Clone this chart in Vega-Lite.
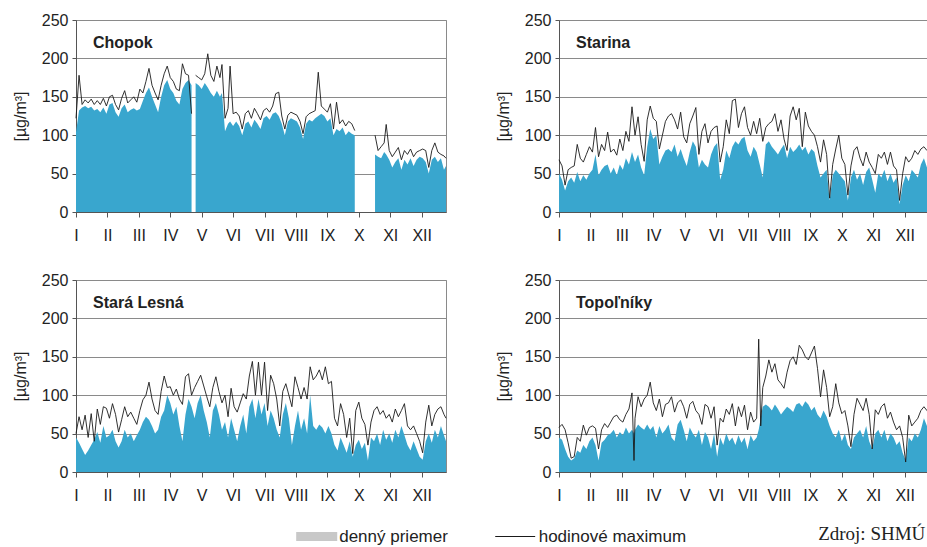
{
"$schema": "https://vega.github.io/schema/vega-lite/v6.json",
"padding": {"left": 11, "top": 11, "right": 0, "bottom": 0},
"background": "white",
"datasets": {
"chopok": [
{"d":0,"dm":104,"mx":122},{"d":3,"dm":132,"mx":178},{"d":6,"dm":136,"mx":140},{"d":9,"dm":138,"mx":146},{"d":12,"dm":135,"mx":142},{"d":15,"dm":137,"mx":147},{"d":18,"dm":132,"mx":140},{"d":21,"dm":134,"mx":145},{"d":24,"dm":130,"mx":140},{"d":27,"dm":136,"mx":148},{"d":30,"dm":128,"mx":138},
{"d":33,"dm":140,"mx":150},{"d":36,"dm":142,"mx":152},{"d":39,"dm":130,"mx":140},{"d":42,"dm":124,"mx":133},{"d":45,"dm":135,"mx":148},{"d":48,"dm":140,"mx":158},{"d":51,"dm":130,"mx":142},{"d":54,"dm":133,"mx":146},{"d":57,"dm":135,"mx":150},{"d":60,"dm":132,"mx":143},
{"d":63,"dm":134,"mx":160},{"d":66,"dm":145,"mx":155},{"d":69,"dm":155,"mx":170},{"d":72,"dm":162,"mx":187},{"d":75,"dm":150,"mx":165},{"d":78,"dm":140,"mx":155},{"d":81,"dm":130,"mx":146},{"d":84,"dm":150,"mx":165},{"d":87,"dm":165,"mx":180},{"d":90,"dm":172,"mx":190},
{"d":93,"dm":160,"mx":175},{"d":96,"dm":155,"mx":170},{"d":99,"dm":145,"mx":160},{"d":102,"dm":140,"mx":158},{"d":105,"dm":160,"mx":193},{"d":108,"dm":168,"mx":180},{"d":111,"dm":172,"mx":178},{"d":114,"dm":165,"mx":128},{"d":116,"dm":null,"mx":null},
{"d":118,"dm":168,"mx":178},{"d":121,"dm":165,"mx":175},{"d":124,"dm":160,"mx":172},{"d":127,"dm":168,"mx":180},{"d":130,"dm":162,"mx":206},{"d":133,"dm":155,"mx":178},{"d":136,"dm":150,"mx":170},{"d":139,"dm":158,"mx":190},{"d":142,"dm":150,"mx":175},{"d":144,"dm":155,"mx":192},
{"d":147,"dm":105,"mx":122},{"d":150,"dm":115,"mx":135},{"d":152,"dm":118,"mx":190},{"d":155,"dm":112,"mx":128},{"d":158,"dm":118,"mx":130},{"d":161,"dm":112,"mx":125},{"d":164,"dm":100,"mx":108},{"d":167,"dm":115,"mx":128},{"d":170,"dm":118,"mx":132},{"d":173,"dm":110,"mx":122},
{"d":176,"dm":120,"mx":135},{"d":179,"dm":115,"mx":128},{"d":182,"dm":108,"mx":120},{"d":185,"dm":122,"mx":132},{"d":188,"dm":125,"mx":135},{"d":191,"dm":120,"mx":130},{"d":194,"dm":128,"mx":138},{"d":197,"dm":130,"mx":154},{"d":200,"dm":125,"mx":156},{"d":203,"dm":115,"mx":125},
{"d":206,"dm":100,"mx":108},{"d":209,"dm":118,"mx":126},{"d":212,"dm":122,"mx":130},{"d":215,"dm":120,"mx":128},{"d":218,"dm":118,"mx":126},{"d":221,"dm":110,"mx":118},{"d":224,"dm":95,"mx":102},{"d":227,"dm":115,"mx":124},{"d":230,"dm":120,"mx":128},{"d":233,"dm":118,"mx":130},
{"d":236,"dm":122,"mx":132},{"d":239,"dm":125,"mx":182},{"d":242,"dm":128,"mx":138},{"d":245,"dm":125,"mx":134},{"d":248,"dm":118,"mx":130},{"d":251,"dm":122,"mx":141},{"d":254,"dm":100,"mx":108},{"d":257,"dm":108,"mx":143},{"d":260,"dm":105,"mx":115},{"d":263,"dm":110,"mx":120},
{"d":266,"dm":100,"mx":112},{"d":269,"dm":105,"mx":118},{"d":272,"dm":102,"mx":115},{"d":275,"dm":100,"mx":106},{"d":285,"dm":null,"mx":null},
{"d":295,"dm":75,"mx":100},{"d":298,"dm":72,"mx":80},{"d":301,"dm":70,"mx":85},{"d":304,"dm":78,"mx":90},{"d":306,"dm":75,"mx":114},{"d":309,"dm":68,"mx":80},{"d":312,"dm":58,"mx":72},{"d":315,"dm":65,"mx":78},{"d":318,"dm":70,"mx":84},{"d":321,"dm":55,"mx":68},
{"d":324,"dm":68,"mx":80},{"d":327,"dm":62,"mx":75},{"d":330,"dm":70,"mx":82},{"d":333,"dm":60,"mx":72},{"d":336,"dm":68,"mx":78},{"d":339,"dm":72,"mx":80},{"d":342,"dm":70,"mx":82},{"d":345,"dm":65,"mx":80},{"d":348,"dm":50,"mx":58},{"d":351,"dm":68,"mx":80},
{"d":354,"dm":72,"mx":90},{"d":357,"dm":65,"mx":78},{"d":360,"dm":70,"mx":75},{"d":363,"dm":55,"mx":73},{"d":365,"dm":60,"mx":70}
],
"starina": [
{"d":0,"dm":50,"mx":68},{"d":3,"dm":42,"mx":60},{"d":6,"dm":28,"mx":35},{"d":9,"dm":40,"mx":55},{"d":12,"dm":45,"mx":58},{"d":15,"dm":38,"mx":60},{"d":18,"dm":52,"mx":88},{"d":21,"dm":40,"mx":70},{"d":24,"dm":48,"mx":65},{"d":27,"dm":42,"mx":75},{"d":30,"dm":50,"mx":85},
{"d":33,"dm":55,"mx":78},{"d":36,"dm":75,"mx":110},{"d":39,"dm":48,"mx":72},{"d":42,"dm":55,"mx":88},{"d":45,"dm":60,"mx":80},{"d":48,"dm":62,"mx":104},{"d":51,"dm":50,"mx":78},{"d":54,"dm":58,"mx":82},{"d":57,"dm":48,"mx":74},{"d":60,"dm":62,"mx":95},
{"d":63,"dm":55,"mx":80},{"d":66,"dm":70,"mx":105},{"d":69,"dm":62,"mx":92},{"d":72,"dm":78,"mx":137},{"d":75,"dm":65,"mx":100},{"d":78,"dm":75,"mx":124},{"d":81,"dm":58,"mx":88},{"d":84,"dm":48,"mx":66},{"d":87,"dm":85,"mx":120},{"d":90,"dm":108,"mx":138},
{"d":93,"dm":95,"mx":122},{"d":96,"dm":100,"mx":118},{"d":99,"dm":62,"mx":82},{"d":102,"dm":72,"mx":100},{"d":105,"dm":80,"mx":118},{"d":108,"dm":82,"mx":125},{"d":111,"dm":78,"mx":128},{"d":114,"dm":88,"mx":120},{"d":117,"dm":72,"mx":108},{"d":120,"dm":82,"mx":130},
{"d":123,"dm":70,"mx":98},{"d":126,"dm":60,"mx":90},{"d":129,"dm":78,"mx":115},{"d":132,"dm":92,"mx":125},{"d":135,"dm":85,"mx":136},{"d":138,"dm":58,"mx":75},{"d":141,"dm":68,"mx":105},{"d":144,"dm":62,"mx":115},{"d":147,"dm":58,"mx":90},{"d":150,"dm":75,"mx":105},
{"d":153,"dm":85,"mx":110},{"d":156,"dm":90,"mx":112},{"d":159,"dm":42,"mx":65},{"d":162,"dm":55,"mx":85},{"d":165,"dm":80,"mx":120},{"d":168,"dm":70,"mx":102},{"d":171,"dm":85,"mx":145},{"d":174,"dm":92,"mx":147},{"d":177,"dm":88,"mx":110},{"d":180,"dm":95,"mx":128},
{"d":183,"dm":98,"mx":137},{"d":186,"dm":80,"mx":110},{"d":189,"dm":72,"mx":100},{"d":192,"dm":85,"mx":118},{"d":195,"dm":78,"mx":102},{"d":198,"dm":62,"mx":122},{"d":201,"dm":45,"mx":92},{"d":204,"dm":88,"mx":110},{"d":207,"dm":92,"mx":115},{"d":210,"dm":85,"mx":118},
{"d":213,"dm":80,"mx":128},{"d":216,"dm":75,"mx":105},{"d":219,"dm":82,"mx":120},{"d":222,"dm":88,"mx":95},{"d":225,"dm":70,"mx":80},{"d":228,"dm":85,"mx":125},{"d":231,"dm":78,"mx":137},{"d":234,"dm":82,"mx":120},{"d":237,"dm":88,"mx":135},{"d":240,"dm":80,"mx":85},
{"d":243,"dm":85,"mx":130},{"d":246,"dm":75,"mx":112},{"d":249,"dm":82,"mx":105},{"d":252,"dm":78,"mx":100},{"d":255,"dm":60,"mx":85},{"d":258,"dm":45,"mx":65},{"d":261,"dm":50,"mx":94},{"d":264,"dm":55,"mx":75},{"d":267,"dm":15,"mx":18},{"d":270,"dm":48,"mx":62},
{"d":273,"dm":55,"mx":82},{"d":276,"dm":50,"mx":100},{"d":279,"dm":45,"mx":70},{"d":282,"dm":40,"mx":62},{"d":285,"dm":15,"mx":22},{"d":288,"dm":45,"mx":60},{"d":291,"dm":55,"mx":80},{"d":294,"dm":42,"mx":85},{"d":297,"dm":50,"mx":70},{"d":300,"dm":35,"mx":60},
{"d":303,"dm":52,"mx":78},{"d":306,"dm":58,"mx":65},{"d":309,"dm":42,"mx":58},{"d":312,"dm":25,"mx":50},{"d":315,"dm":50,"mx":75},{"d":318,"dm":45,"mx":70},{"d":321,"dm":55,"mx":78},{"d":324,"dm":40,"mx":62},{"d":327,"dm":50,"mx":78},{"d":330,"dm":38,"mx":60},
{"d":333,"dm":45,"mx":55},{"d":336,"dm":10,"mx":15},{"d":339,"dm":35,"mx":50},{"d":342,"dm":48,"mx":72},{"d":345,"dm":40,"mx":65},{"d":348,"dm":55,"mx":70},{"d":351,"dm":50,"mx":80},{"d":354,"dm":45,"mx":75},{"d":357,"dm":62,"mx":82},{"d":360,"dm":70,"mx":85},{"d":363,"dm":58,"mx":80},{"d":365,"dm":60,"mx":78}
],
"lesna": [
{"d":0,"dm":45,"mx":50},{"d":3,"dm":38,"mx":72},{"d":6,"dm":30,"mx":55},{"d":9,"dm":22,"mx":74},{"d":12,"dm":28,"mx":45},{"d":15,"dm":35,"mx":76},{"d":18,"dm":42,"mx":40},{"d":21,"dm":52,"mx":82},{"d":24,"dm":38,"mx":62},{"d":27,"dm":60,"mx":85},{"d":30,"dm":45,"mx":83},
{"d":33,"dm":48,"mx":70},{"d":36,"dm":55,"mx":89},{"d":39,"dm":40,"mx":75},{"d":42,"dm":32,"mx":52},{"d":45,"dm":40,"mx":68},{"d":48,"dm":55,"mx":85},{"d":51,"dm":45,"mx":72},{"d":54,"dm":50,"mx":78},{"d":57,"dm":40,"mx":70},{"d":60,"dm":48,"mx":62},
{"d":63,"dm":55,"mx":80},{"d":66,"dm":65,"mx":94},{"d":69,"dm":72,"mx":100},{"d":72,"dm":68,"mx":117},{"d":75,"dm":60,"mx":95},{"d":78,"dm":50,"mx":80},{"d":81,"dm":55,"mx":75},{"d":84,"dm":72,"mx":105},{"d":87,"dm":80,"mx":125},{"d":90,"dm":100,"mx":110},
{"d":93,"dm":90,"mx":111},{"d":96,"dm":75,"mx":100},{"d":99,"dm":85,"mx":108},{"d":102,"dm":60,"mx":95},{"d":105,"dm":40,"mx":88},{"d":108,"dm":75,"mx":124},{"d":111,"dm":95,"mx":128},{"d":114,"dm":85,"mx":100},{"d":117,"dm":70,"mx":110},{"d":120,"dm":90,"mx":118},
{"d":123,"dm":100,"mx":126},{"d":126,"dm":80,"mx":112},{"d":129,"dm":65,"mx":98},{"d":132,"dm":45,"mx":85},{"d":135,"dm":80,"mx":110},{"d":138,"dm":90,"mx":124},{"d":141,"dm":75,"mx":105},{"d":144,"dm":55,"mx":90},{"d":147,"dm":65,"mx":100},{"d":150,"dm":45,"mx":72},
{"d":153,"dm":70,"mx":109},{"d":156,"dm":55,"mx":85},{"d":159,"dm":40,"mx":78},{"d":162,"dm":60,"mx":90},{"d":165,"dm":75,"mx":102},{"d":168,"dm":50,"mx":95},{"d":171,"dm":85,"mx":125},{"d":174,"dm":95,"mx":144},{"d":177,"dm":70,"mx":100},{"d":180,"dm":95,"mx":143},
{"d":183,"dm":75,"mx":100},{"d":186,"dm":90,"mx":143},{"d":189,"dm":60,"mx":80},{"d":192,"dm":80,"mx":126},{"d":195,"dm":70,"mx":115},{"d":198,"dm":55,"mx":95},{"d":201,"dm":45,"mx":60},{"d":204,"dm":75,"mx":105},{"d":207,"dm":90,"mx":115},{"d":210,"dm":70,"mx":100},
{"d":213,"dm":35,"mx":85},{"d":216,"dm":60,"mx":124},{"d":219,"dm":80,"mx":110},{"d":222,"dm":55,"mx":95},{"d":225,"dm":70,"mx":110},{"d":228,"dm":50,"mx":95},{"d":231,"dm":100,"mx":137},{"d":234,"dm":60,"mx":120},{"d":237,"dm":55,"mx":125},{"d":240,"dm":62,"mx":133},
{"d":243,"dm":58,"mx":120},{"d":246,"dm":50,"mx":137},{"d":249,"dm":60,"mx":115},{"d":252,"dm":50,"mx":118},{"d":255,"dm":35,"mx":70},{"d":258,"dm":28,"mx":60},{"d":261,"dm":45,"mx":89},{"d":264,"dm":35,"mx":75},{"d":267,"dm":25,"mx":45},{"d":270,"dm":40,"mx":70},
{"d":273,"dm":20,"mx":24},{"d":276,"dm":35,"mx":80},{"d":279,"dm":42,"mx":91},{"d":282,"dm":30,"mx":70},{"d":285,"dm":38,"mx":62},{"d":288,"dm":15,"mx":35},{"d":291,"dm":45,"mx":65},{"d":294,"dm":40,"mx":80},{"d":297,"dm":50,"mx":85},{"d":300,"dm":35,"mx":75},
{"d":303,"dm":55,"mx":80},{"d":306,"dm":42,"mx":70},{"d":309,"dm":50,"mx":75},{"d":312,"dm":38,"mx":65},{"d":315,"dm":55,"mx":82},{"d":318,"dm":45,"mx":72},{"d":321,"dm":60,"mx":80},{"d":324,"dm":48,"mx":89},{"d":327,"dm":35,"mx":60},{"d":330,"dm":28,"mx":55},
{"d":333,"dm":40,"mx":60},{"d":336,"dm":30,"mx":50},{"d":339,"dm":20,"mx":40},{"d":342,"dm":16,"mx":25},{"d":345,"dm":40,"mx":65},{"d":348,"dm":50,"mx":87},{"d":351,"dm":38,"mx":60},{"d":354,"dm":55,"mx":75},{"d":357,"dm":45,"mx":82},{"d":360,"dm":60,"mx":85},{"d":363,"dm":48,"mx":75},{"d":365,"dm":40,"mx":70}
],
"topolniky": [
{"d":0,"dm":45,"mx":58},{"d":3,"dm":42,"mx":62},{"d":6,"dm":30,"mx":55},{"d":9,"dm":20,"mx":38},{"d":12,"dm":15,"mx":18},{"d":15,"dm":18,"mx":20},{"d":18,"dm":28,"mx":45},{"d":21,"dm":25,"mx":40},{"d":24,"dm":35,"mx":61},{"d":27,"dm":30,"mx":48},{"d":30,"dm":40,"mx":58},
{"d":33,"dm":45,"mx":60},{"d":36,"dm":35,"mx":57},{"d":39,"dm":15,"mx":30},{"d":42,"dm":38,"mx":55},{"d":45,"dm":42,"mx":63},{"d":48,"dm":48,"mx":58},{"d":51,"dm":50,"mx":65},{"d":54,"dm":55,"mx":72},{"d":57,"dm":45,"mx":74},{"d":60,"dm":52,"mx":68},
{"d":63,"dm":48,"mx":65},{"d":66,"dm":58,"mx":75},{"d":69,"dm":50,"mx":82},{"d":72,"dm":55,"mx":103},{"d":74,"dm":50,"mx":15},{"d":75,"dm":55,"mx":70},{"d":78,"dm":62,"mx":98},{"d":81,"dm":58,"mx":85},{"d":84,"dm":55,"mx":95},{"d":87,"dm":62,"mx":100},{"d":90,"dm":55,"mx":117},
{"d":93,"dm":60,"mx":90},{"d":96,"dm":45,"mx":80},{"d":99,"dm":60,"mx":95},{"d":102,"dm":50,"mx":72},{"d":105,"dm":55,"mx":88},{"d":108,"dm":62,"mx":90},{"d":111,"dm":45,"mx":98},{"d":114,"dm":40,"mx":78},{"d":117,"dm":62,"mx":90},{"d":120,"dm":68,"mx":94},
{"d":123,"dm":55,"mx":85},{"d":126,"dm":40,"mx":70},{"d":129,"dm":58,"mx":88},{"d":132,"dm":50,"mx":92},{"d":135,"dm":45,"mx":80},{"d":138,"dm":55,"mx":75},{"d":141,"dm":35,"mx":62},{"d":144,"dm":52,"mx":88},{"d":147,"dm":45,"mx":85},{"d":150,"dm":30,"mx":70},
{"d":153,"dm":50,"mx":85},{"d":156,"dm":20,"mx":35},{"d":159,"dm":45,"mx":70},{"d":162,"dm":35,"mx":65},{"d":165,"dm":50,"mx":82},{"d":168,"dm":40,"mx":75},{"d":171,"dm":45,"mx":89},{"d":174,"dm":35,"mx":60},{"d":177,"dm":48,"mx":85},{"d":180,"dm":38,"mx":72},
{"d":183,"dm":45,"mx":87},{"d":186,"dm":30,"mx":55},{"d":189,"dm":48,"mx":78},{"d":192,"dm":40,"mx":65},{"d":195,"dm":45,"mx":70},{"d":197,"dm":55,"mx":173},{"d":199,"dm":70,"mx":60},{"d":201,"dm":85,"mx":110},{"d":204,"dm":88,"mx":125},{"d":207,"dm":85,"mx":146},
{"d":210,"dm":80,"mx":130},{"d":213,"dm":88,"mx":141},{"d":216,"dm":82,"mx":120},{"d":219,"dm":75,"mx":115},{"d":222,"dm":80,"mx":109},{"d":225,"dm":85,"mx":130},{"d":228,"dm":82,"mx":145},{"d":231,"dm":78,"mx":150},{"d":234,"dm":88,"mx":140},{"d":237,"dm":90,"mx":165},
{"d":240,"dm":85,"mx":159},{"d":243,"dm":92,"mx":150},{"d":246,"dm":88,"mx":146},{"d":249,"dm":80,"mx":155},{"d":252,"dm":85,"mx":164},{"d":255,"dm":75,"mx":135},{"d":258,"dm":70,"mx":98},{"d":261,"dm":80,"mx":133},{"d":264,"dm":72,"mx":110},{"d":267,"dm":60,"mx":72},
{"d":270,"dm":50,"mx":85},{"d":273,"dm":45,"mx":115},{"d":276,"dm":55,"mx":90},{"d":279,"dm":40,"mx":76},{"d":282,"dm":50,"mx":80},{"d":285,"dm":35,"mx":60},{"d":288,"dm":30,"mx":33},{"d":291,"dm":45,"mx":75},{"d":294,"dm":50,"mx":96},{"d":297,"dm":55,"mx":88},
{"d":300,"dm":45,"mx":80},{"d":303,"dm":60,"mx":96},{"d":306,"dm":40,"mx":75},{"d":309,"dm":30,"mx":30},{"d":312,"dm":50,"mx":81},{"d":315,"dm":55,"mx":75},{"d":318,"dm":45,"mx":85},{"d":321,"dm":55,"mx":89},{"d":324,"dm":40,"mx":70},{"d":327,"dm":50,"mx":78},
{"d":330,"dm":45,"mx":65},{"d":333,"dm":35,"mx":55},{"d":336,"dm":40,"mx":60},{"d":339,"dm":25,"mx":45},{"d":342,"dm":15,"mx":13},{"d":345,"dm":45,"mx":74},{"d":348,"dm":40,"mx":60},{"d":351,"dm":50,"mx":65},{"d":354,"dm":45,"mx":70},{"d":357,"dm":55,"mx":80},{"d":360,"dm":70,"mx":85},{"d":363,"dm":60,"mx":80},{"d":365,"dm":55,"mx":75}
]
},
"columns": 2,
"spacing": {"row": 27, "column": 45},
"title": {"text": "Zdroj: SHMÚ", "orient": "bottom", "anchor": "end", "font": "Liberation Serif", "fontSize": 19, "fontWeight": "normal", "color": "#222", "offset": -5, "baseline": "alphabetic", "dx": -6},
"concat": [
{"width": 370, "height": 192, "data": {"name": "chopok"},
 "title": {"text": "Chopok", "anchor": "start", "frame": "group", "dx": 17, "dy": 52, "offset": 0, "baseline": "alphabetic", "fontSize": 16, "fontWeight": "bold", "font": "Liberation Sans", "color": "#222"},
 "encoding": {"x": {"field": "d", "type": "quantitative", "scale": {"domain": [0, 365], "nice": false, "zero": false}, "axis": {"values": [0,31,62,93,124,155,186,217,248,279,310,341], "tickCount": 20, "labelExpr": "['I','II','III','IV','V','VI','VII','VIII','IX','X','XI','XII'][round(datum.value/31)]", "title": null, "grid": false, "tickSize": 5, "labelPadding": 10, "labelFlush": false, "labelOverlap": false}}},
 "layer": [
  {"mark": {"type": "area", "color": "#39A6CE", "invalid": "break-paths-show-domains"},
   "encoding": {"y": {"field": "dm", "type": "quantitative", "stack": null, "scale": {"domain": [0, 250], "nice": false}, "axis": {"values": [0,50,100,150,200,250], "tickCount": 20, "title": "[µg/m³]", "grid": true, "tickSize": 4, "labelPadding": 4, "titlePadding": 13, "labelOverlap": false}}}},
  {"mark": {"type": "line", "strokeWidth": 0.9, "invalid": "break-paths-show-domains"},
   "encoding": {"y": {"field": "mx", "type": "quantitative", "scale": {"domain": [0, 250], "nice": false}, "axis": {"values": [0,50,100,150,200,250], "tickCount": 20, "title": "[µg/m³]", "grid": true, "tickSize": 4, "labelPadding": 4, "titlePadding": 13, "labelOverlap": false}},
    "stroke": {"datum": "hodinové maximum", "scale": {"domain": ["hodinové maximum"], "range": ["#1a1a1a"]}, "legend": {"orient": "none", "legendX": 430.7, "legendY": 508, "title": null, "symbolType": "M-3.33,0H3.33", "symbolSize": 144, "symbolStrokeWidth": 1, "labelOffset": 15}}}},
  {"transform": [{"filter": "false"}],
   "mark": {"type": "square"},
   "encoding": {"fill": {"datum": "denný priemer", "scale": {"domain": ["denný priemer"], "range": ["#c8c8c8"]}, "legend": {"orient": "none", "legendX": 232.2, "legendY": 508, "title": null, "symbolType": "M-3.42,-0.75H3.42V0.75H-3.42Z", "symbolSize": 144, "symbolStrokeWidth": 0, "symbolOpacity": 1, "labelOffset": 14}}}}
 ]},
{"width": 370, "height": 192, "data": {"name": "starina"},
 "title": {"text": "Starina", "anchor": "start", "frame": "group", "dx": 17, "dy": 52, "offset": 0, "baseline": "alphabetic", "fontSize": 16, "fontWeight": "bold", "font": "Liberation Sans", "color": "#222"},
 "encoding": {"x": {"field": "d", "type": "quantitative", "scale": {"domain": [0, 365], "nice": false, "zero": false}, "axis": {"values": [0,31,62,93,124,155,186,217,248,279,310,341], "tickCount": 20, "labelExpr": "['I','II','III','IV','V','VI','VII','VIII','IX','X','XI','XII'][round(datum.value/31)]", "title": null, "grid": false, "tickSize": 5, "labelPadding": 10, "labelFlush": false, "labelOverlap": false}}},
 "layer": [
  {"mark": {"type": "area", "color": "#39A6CE", "invalid": "break-paths-show-domains"},
   "encoding": {"y": {"field": "dm", "type": "quantitative", "stack": null, "scale": {"domain": [0, 250], "nice": false}, "axis": {"values": [0,50,100,150,200,250], "tickCount": 20, "title": "[µg/m³]", "grid": true, "tickSize": 4, "labelPadding": 4, "titlePadding": 13, "labelOverlap": false}}}},
  {"mark": {"type": "line", "strokeWidth": 0.9, "color": "#1a1a1a", "invalid": "break-paths-show-domains"},
   "encoding": {"y": {"field": "mx", "type": "quantitative", "scale": {"domain": [0, 250], "nice": false}, "axis": {"values": [0,50,100,150,200,250], "tickCount": 20, "title": "[µg/m³]", "grid": true, "tickSize": 4, "labelPadding": 4, "titlePadding": 13, "labelOverlap": false}}}}
 ]},
{"width": 370, "height": 192, "data": {"name": "lesna"},
 "title": {"text": "Stará Lesná", "anchor": "start", "frame": "group", "dx": 17, "dy": 52, "offset": 0, "baseline": "alphabetic", "fontSize": 16, "fontWeight": "bold", "font": "Liberation Sans", "color": "#222"},
 "encoding": {"x": {"field": "d", "type": "quantitative", "scale": {"domain": [0, 365], "nice": false, "zero": false}, "axis": {"values": [0,31,62,93,124,155,186,217,248,279,310,341], "tickCount": 20, "labelExpr": "['I','II','III','IV','V','VI','VII','VIII','IX','X','XI','XII'][round(datum.value/31)]", "title": null, "grid": false, "tickSize": 5, "labelPadding": 10, "labelFlush": false, "labelOverlap": false}}},
 "layer": [
  {"mark": {"type": "area", "color": "#39A6CE", "invalid": "break-paths-show-domains"},
   "encoding": {"y": {"field": "dm", "type": "quantitative", "stack": null, "scale": {"domain": [0, 250], "nice": false}, "axis": {"values": [0,50,100,150,200,250], "tickCount": 20, "title": "[µg/m³]", "grid": true, "tickSize": 4, "labelPadding": 4, "titlePadding": 13, "labelOverlap": false}}}},
  {"mark": {"type": "line", "strokeWidth": 0.9, "color": "#1a1a1a", "invalid": "break-paths-show-domains"},
   "encoding": {"y": {"field": "mx", "type": "quantitative", "scale": {"domain": [0, 250], "nice": false}, "axis": {"values": [0,50,100,150,200,250], "tickCount": 20, "title": "[µg/m³]", "grid": true, "tickSize": 4, "labelPadding": 4, "titlePadding": 13, "labelOverlap": false}}}}
 ]},
{"width": 370, "height": 192, "data": {"name": "topolniky"},
 "title": {"text": "Topoľníky", "anchor": "start", "frame": "group", "dx": 17, "dy": 52, "offset": 0, "baseline": "alphabetic", "fontSize": 16, "fontWeight": "bold", "font": "Liberation Sans", "color": "#222"},
 "encoding": {"x": {"field": "d", "type": "quantitative", "scale": {"domain": [0, 365], "nice": false, "zero": false}, "axis": {"values": [0,31,62,93,124,155,186,217,248,279,310,341], "tickCount": 20, "labelExpr": "['I','II','III','IV','V','VI','VII','VIII','IX','X','XI','XII'][round(datum.value/31)]", "title": null, "grid": false, "tickSize": 5, "labelPadding": 10, "labelFlush": false, "labelOverlap": false}}},
 "layer": [
  {"mark": {"type": "area", "color": "#39A6CE", "invalid": "break-paths-show-domains"},
   "encoding": {"y": {"field": "dm", "type": "quantitative", "stack": null, "scale": {"domain": [0, 250], "nice": false}, "axis": {"values": [0,50,100,150,200,250], "tickCount": 20, "title": "[µg/m³]", "grid": true, "tickSize": 4, "labelPadding": 4, "titlePadding": 13, "labelOverlap": false}}}},
  {"mark": {"type": "line", "strokeWidth": 0.9, "color": "#1a1a1a", "invalid": "break-paths-show-domains"},
   "encoding": {"y": {"field": "mx", "type": "quantitative", "scale": {"domain": [0, 250], "nice": false}, "axis": {"values": [0,50,100,150,200,250], "tickCount": 20, "title": "[µg/m³]", "grid": true, "tickSize": 4, "labelPadding": 4, "titlePadding": 13, "labelOverlap": false}}}}
 ]}
],
"config": {
 "font": "Liberation Sans",
 "view": {"stroke": "#8a8a8a", "strokeWidth": 1},
 "axis": {"labelFont": "Liberation Sans", "labelFontSize": 16, "labelColor": "#222", "domainColor": "#555", "tickColor": "#555", "gridColor": "#8a8a8a", "titleFont": "Liberation Sans", "titleFontSize": 16, "titleFontWeight": "normal", "titleColor": "#222"},
 "legend": {"labelFont": "Liberation Sans", "labelFontSize": 17, "labelColor": "#222", "padding": 0}
}
}
